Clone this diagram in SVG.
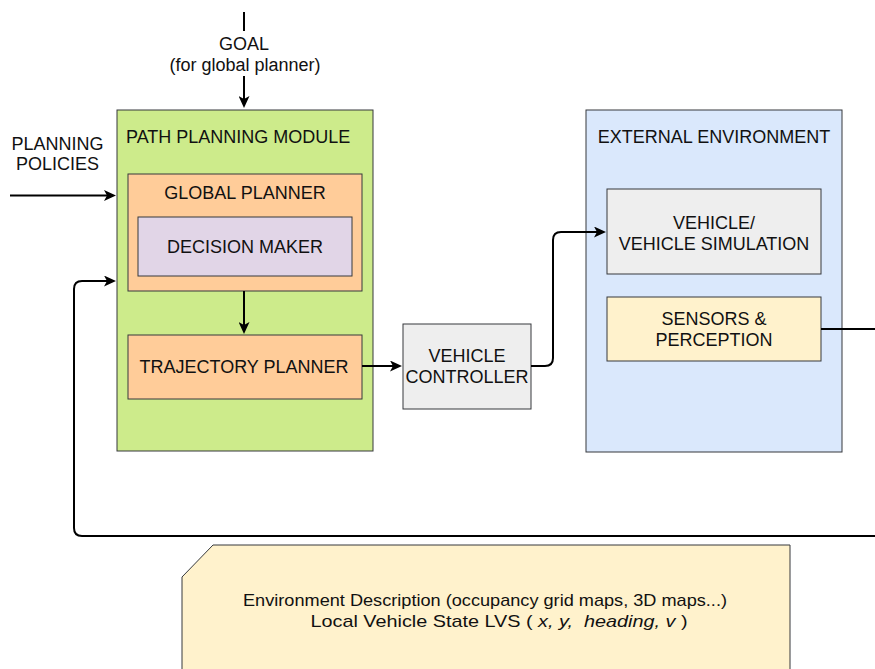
<svg xmlns="http://www.w3.org/2000/svg" width="875" height="669" viewBox="0 0 875 669">
  <style>
    text { font-family: "Liberation Sans", Arial, Helvetica, sans-serif; font-size: 18px; fill: #111; }
    .c { text-anchor: middle; }
    .box { stroke: #36393d; stroke-width: 1; }
    .wire { fill: none; stroke: #000; stroke-width: 2; stroke-linejoin: round; }
    .note { font-size: 17px; }
  </style>
  <defs>
    <marker id="arrow" markerUnits="userSpaceOnUse" markerWidth="13" markerHeight="11" refX="3" refY="5.5" orient="auto">
      <path d="M0,0 L12,5.5 L0,11 L3,5.5 Z" fill="#000"/>
    </marker>
  </defs>

  <rect width="875" height="669" fill="#fff"/>

  <!-- Path planning module -->
  <g id="path-planning-module">
    <rect class="box" x="117" y="110" width="256" height="341" fill="#cdeb8b"/>
    <text x="126" y="143">PATH PLANNING MODULE</text>
  </g>

  <g id="global-planner">
    <rect class="box" x="128" y="174" width="234" height="117" fill="#ffcc99"/>
    <text class="c" x="245" y="199">GLOBAL PLANNER</text>
  </g>

  <g id="decision-maker">
    <rect class="box" x="138" y="217" width="214" height="59" fill="#e1d5e7"/>
    <text class="c" x="245" y="253">DECISION MAKER</text>
  </g>

  <g id="trajectory-planner">
    <rect class="box" x="128" y="335" width="234" height="64" fill="#ffcc99"/>
    <text class="c" x="244" y="373">TRAJECTORY PLANNER</text>
  </g>

  <g id="vehicle-controller">
    <rect class="box" x="403" y="324" width="128" height="85" fill="#eeeeee"/>
    <text class="c" x="467" y="362" font-size="17">VEHICLE</text>
    <text class="c" x="467" y="382.5" font-size="17">CONTROLLER</text>
  </g>

  <!-- External environment -->
  <g id="external-environment">
    <rect class="box" x="586" y="110" width="256" height="342" fill="#dae8fc"/>
    <text class="c" x="714" y="143">EXTERNAL ENVIRONMENT</text>
  </g>

  <g id="vehicle">
    <rect class="box" x="607" y="189" width="214" height="85" fill="#eeeeee"/>
    <text class="c" x="714" y="229">VEHICLE/</text>
    <text class="c" x="714" y="249.5">VEHICLE SIMULATION</text>
  </g>

  <g id="sensors">
    <rect class="box" x="607" y="297" width="214" height="64" fill="#fff2cc"/>
    <text class="c" x="714" y="325">SENSORS &amp;</text>
    <text class="c" x="714" y="345.5">PERCEPTION</text>
  </g>

  <!-- Data description note -->
  <g id="environment-note">
    <path class="box" d="M213,545 L790,545 L790,680 L182,680 L182,577 Z" fill="#fff2cc"/>
    <text class="note c" x="485" y="606" textLength="484" lengthAdjust="spacingAndGlyphs">Environment Description (occupancy grid maps, 3D maps...)</text>
    <text class="note c" x="499" y="626.5" textLength="377" lengthAdjust="spacingAndGlyphs" xml:space="preserve">Local Vehicle State LVS ( <tspan font-style="italic">x, y,  heading, v</tspan> )</text>
  </g>

  <!-- Free-standing labels -->
  <g id="goal-label">
    <text class="c" x="244" y="49.5">GOAL</text>
    <text class="c" x="245" y="71">(for global planner)</text>
  </g>
  <g id="policies-label">
    <text class="c" x="57.5" y="150">PLANNING</text>
    <text class="c" x="57.5" y="169.5">POLICIES</text>
  </g>

  <!-- Connectors -->
  <g id="connectors">
    <line class="wire" x1="244" y1="12" x2="244" y2="31"/>
    <line class="wire" x1="244" y1="76" x2="244" y2="99" marker-end="url(#arrow)"/>
    <line class="wire" x1="10" y1="195.5" x2="107" y2="195.5" marker-end="url(#arrow)"/>
    <line class="wire" x1="244" y1="291" x2="244" y2="325" marker-end="url(#arrow)"/>
    <line class="wire" x1="362" y1="366" x2="393" y2="366" marker-end="url(#arrow)"/>
    <path class="wire" d="M531,366 L545,366 Q553,366 553,358 L553,240 Q553,232 561,232 L597,232" marker-end="url(#arrow)"/>
    <line class="wire" x1="821" y1="329" x2="876" y2="329"/>
    <path class="wire" d="M876,536 L82,536 Q74,536 74,528 L74,289 Q74,281 82,281 L107,281" marker-end="url(#arrow)"/>
  </g>
</svg>
